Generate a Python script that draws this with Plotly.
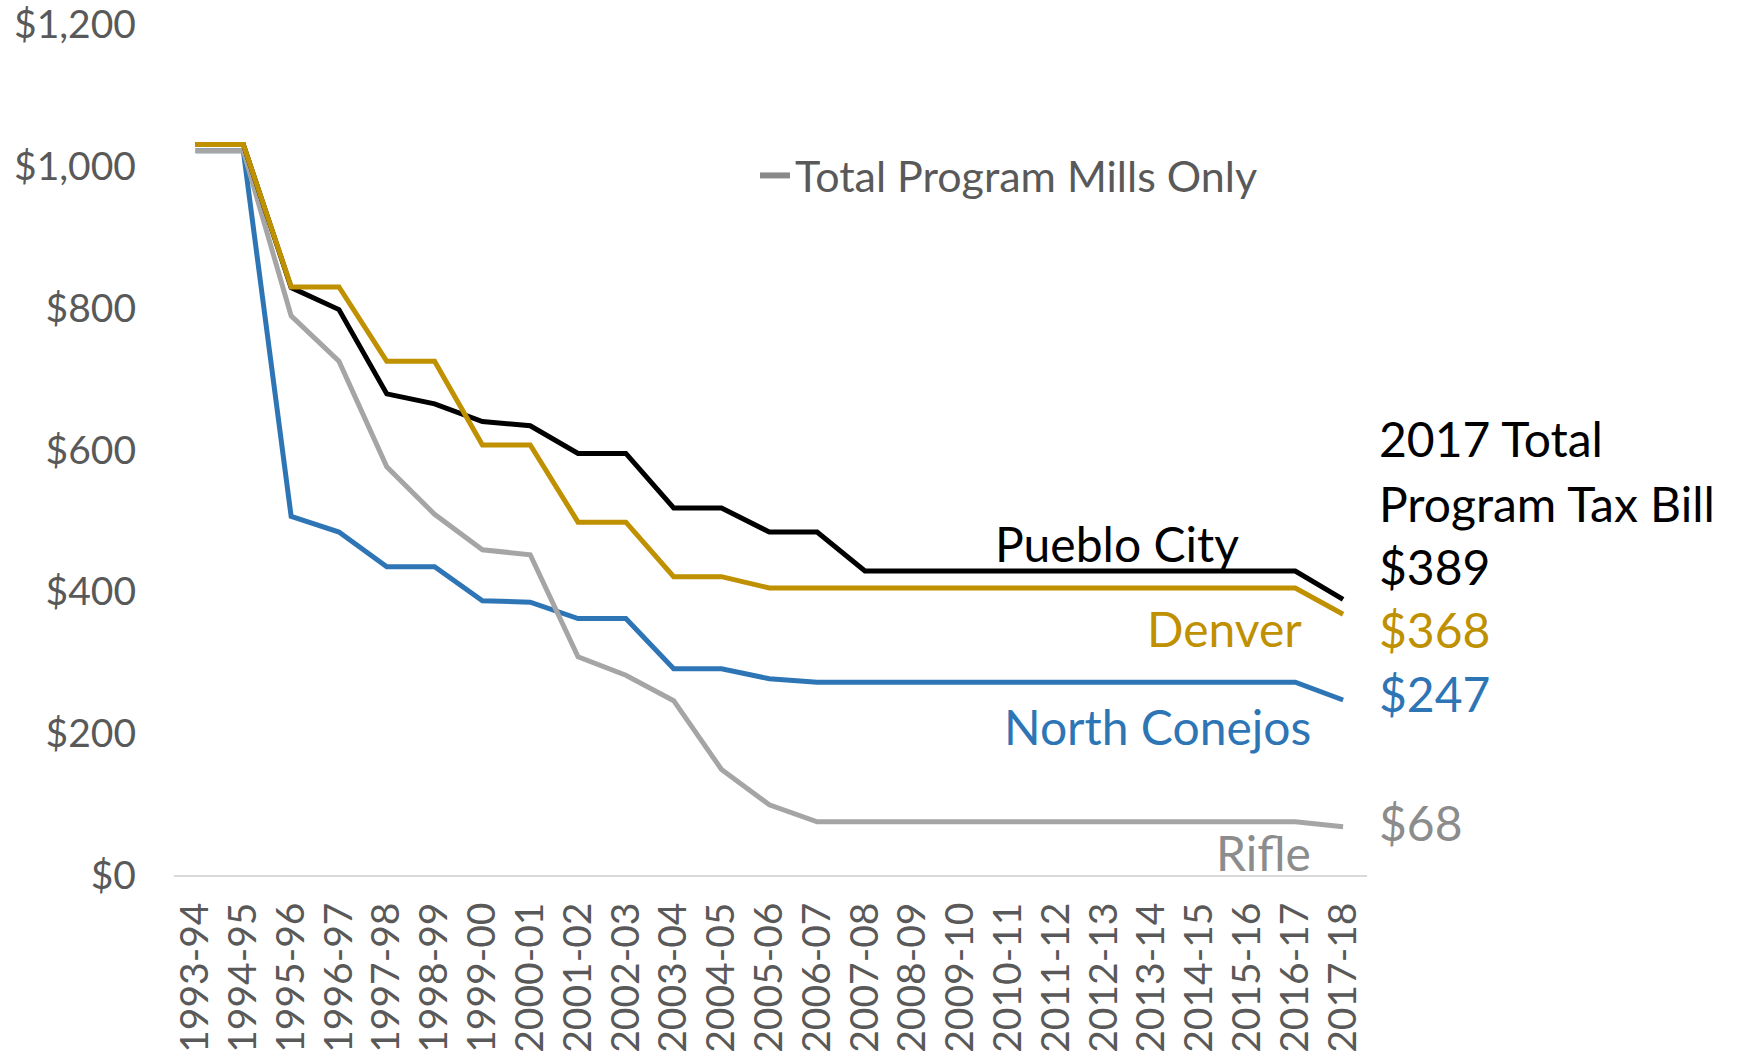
import plotly.graph_objects as go

years = ["1993-94", "1994-95", "1995-96", "1996-97", "1997-98", "1998-99", "1999-00",
         "2000-01", "2001-02", "2002-03", "2003-04", "2004-05", "2005-06", "2006-07",
         "2007-08", "2008-09", "2009-10", "2010-11", "2011-12", "2012-13", "2013-14",
         "2014-15", "2015-16", "2016-17", "2017-18"]

pueblo = [1031, 1031, 829, 798, 679, 665, 640, 634, 595, 595, 518, 518, 484, 484,
          429, 429, 429, 429, 429, 429, 429, 429, 429, 429, 389]
denver = [1031, 1031, 830, 830, 725, 725, 607, 607, 498, 498, 421, 421, 405, 405,
          405, 405, 405, 405, 405, 405, 405, 405, 405, 405, 368]
conejos = [1022, 1022, 506, 484, 435, 435, 387, 385, 362, 362, 291, 291, 277, 272,
           272, 272, 272, 272, 272, 272, 272, 272, 272, 272, 247]
rifle = [1022, 1022, 789, 725, 576, 509, 459, 452, 308, 282, 246, 149, 99, 75,
         75, 75, 75, 75, 75, 75, 75, 75, 75, 75, 68]

y_ticks = [0, 200, 400, 600, 800, 1000, 1200]
y_labels = ["$0", "$200", "$400", "$600", "$800", "$1,000", "$1,200"]

BLACK = "#000000"
GOLD = "#BF9000"
BLUE = "#2E75B6"
GRAY = "#A5A5A5"
GRAY_TXT = "#8C8C8C"
FONT = "Lato"

fig = go.Figure()

# drawing order matters where the lines overlap at the start
for vals, color in [(conejos, BLUE), (rifle, GRAY), (pueblo, BLACK), (denver, GOLD)]:
    fig.add_trace(go.Scatter(x=years, y=vals, mode="lines", showlegend=False,
                             line=dict(color=color, width=5)))

# legend-only entry
fig.add_trace(go.Scatter(x=[None], y=[None], mode="lines", name="Total Program Mills Only",
                         line=dict(color="#898989", width=6)))

labels = [
    ("Pueblo City", BLACK, 0.894, 0.390),
    ("Denver", GOLD, 0.947, 0.290),
    ("North Conejos", BLUE, 0.955, 0.175),
    ("Rifle", GRAY_TXT, 0.955, 0.027),
]
for txt, col, xp, yp in labels:
    fig.add_annotation(text=txt, x=xp, y=yp, xref="paper", yref="paper",
                       xanchor="right", yanchor="middle", showarrow=False,
                       font=dict(family=FONT, size=48, color=col))

for txt, yp in [("2017 Total", 0.5135), ("Program Tax Bill", 0.437)]:
    fig.add_annotation(text=txt, x=1.008, y=yp, xref="paper", yref="paper",
                       xanchor="left", yanchor="middle", showarrow=False,
                       font=dict(family=FONT, size=48, color=BLACK))

ends = [(pueblo, BLACK, 0.363), (denver, GOLD, 0.289), (conejos, BLUE, 0.213),
        (rifle, GRAY_TXT, 0.062)]
for vals, col, yp in ends:
    fig.add_annotation(text="$" + str(vals[-1]), x=1.008, y=yp, xref="paper", yref="paper",
                       xanchor="left", yanchor="middle", showarrow=False,
                       font=dict(family=FONT, size=48, color=col))

fig.update_layout(
    width=1739, height=1057,
    margin=dict(l=174, r=372, t=24, b=182),
    plot_bgcolor="white", paper_bgcolor="white",
    font=dict(family=FONT, color="#595959"),
    legend=dict(x=0.487, y=0.822, xanchor="left", yanchor="middle",
                font=dict(family=FONT, size=43, color="#595959"),
                bgcolor="rgba(0,0,0,0)"),
)
fig.update_xaxes(type="category", range=[-0.45, 24.5], tickmode="array", tickvals=years,
                 showgrid=False, zeroline=False, automargin=False,
                 showline=True, linecolor="#D9D9D9", linewidth=2, ticks="",
                 tickangle=-90, tickfont=dict(family=FONT, size=39, color="#595959"),
                 ticklabelstandoff=10)
fig.update_yaxes(range=[0, 1201], tickmode="array", tickvals=y_ticks, ticktext=y_labels,
                 showgrid=False, zeroline=False, showline=False, ticks="",
                 automargin=False, ticklabeloverflow="allow",
                 tickfont=dict(family=FONT, size=39, color="#595959"),
                 ticklabelstandoff=37)

# drop the default body margin so the figure sits at the page corner
fig.write_html("out.html", config={"displayModeBar": False},
               post_script="document.body.style.margin='0';")
